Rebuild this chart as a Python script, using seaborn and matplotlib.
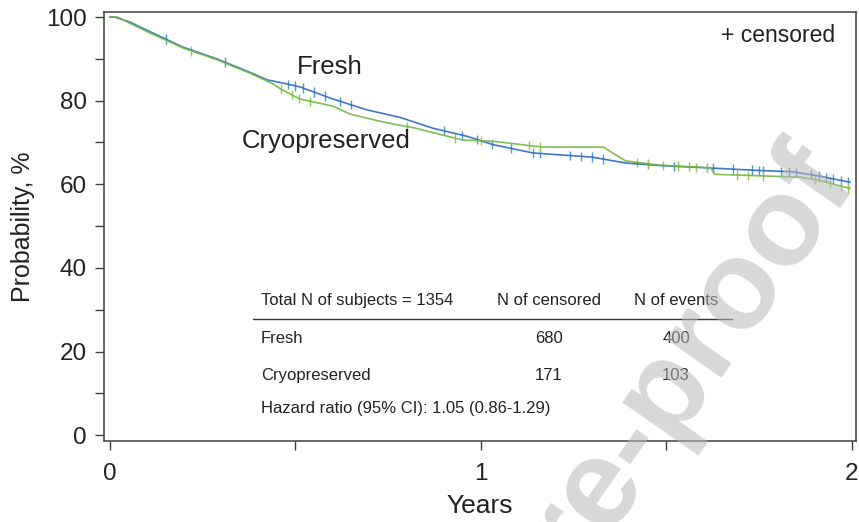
import numpy as np
import pandas as pd
import seaborn as sns
import matplotlib.pyplot as plt

# Kaplan-Meier curves (years, probability %)
fresh_t = [0, 0.013, 0.054, 0.108, 0.197, 0.288, 0.377, 0.423, 0.477, 0.512, 0.601,
           0.693, 0.782, 0.871, 0.962, 1.032, 1.14, 1.30, 1.39, 1.48, 1.62, 1.75,
           1.84, 1.91, 1.995]
fresh_p = [100, 100, 98.8, 96.5, 92.8, 90.0, 86.8, 85.0, 84.0, 83.3, 80.4,
           77.8, 76.0, 73.4, 71.5, 69.5, 67.5, 66.5, 65.1, 64.5, 63.9, 63.3,
           63.0, 62.0, 60.5]
cryo_t = [0, 0.02, 0.054, 0.108, 0.197, 0.288, 0.377, 0.44, 0.46, 0.512, 0.601,
          0.647, 0.736, 0.82, 0.95, 1.032, 1.165, 1.33, 1.355, 1.39, 1.48, 1.62,
          1.63, 1.86, 1.91, 1.995]
cryo_p = [100, 100, 98.5, 96.2, 92.6, 89.8, 86.6, 84.0, 82.8, 80.4, 78.7,
          76.8, 74.9, 73.5, 70.6, 70.3, 68.9, 68.9, 67.5, 65.6, 64.6, 63.9,
          62.4, 61.7, 61.0, 59.0]

# censoring times (years)
fresh_cens = [0.15, 0.31, 0.48, 0.50, 0.52, 0.55, 0.58, 0.62, 0.65, 0.90, 0.95,
              0.99, 1.03, 1.08, 1.14, 1.16, 1.24, 1.27, 1.30, 1.33, 1.45, 1.52,
              1.61, 1.625, 1.68, 1.73, 1.75, 1.76, 1.81, 1.83, 1.85, 1.89, 1.91,
              1.93, 1.95, 1.97, 1.99]
cryo_cens = [0.22, 0.46, 0.49, 0.51, 0.54, 0.80, 0.93, 1.00, 1.13, 1.16, 1.42,
             1.45, 1.49, 1.53, 1.56, 1.58, 1.61, 1.69, 1.72, 1.76, 1.90, 1.94,
             1.97, 1.99]

groups = ['Fresh', 'Cryopreserved']
n_censored = [680, 171]
n_events = [400, 103]

colors = {'Fresh': '#2f68bd', 'Cryopreserved': '#72b843'}
mark_colors = {'Fresh': '#4a9ad6', 'Cryopreserved': '#9acb4a'}

curves = pd.concat([
    pd.DataFrame({'years': fresh_t, 'prob': fresh_p, 'group': 'Fresh'}),
    pd.DataFrame({'years': cryo_t, 'prob': cryo_p, 'group': 'Cryopreserved'}),
])
cens = pd.concat([
    pd.DataFrame({'years': fresh_cens, 'prob': np.interp(fresh_cens, fresh_t, fresh_p), 'group': 'Fresh'}),
    pd.DataFrame({'years': cryo_cens, 'prob': np.interp(cryo_cens, cryo_t, cryo_p), 'group': 'Cryopreserved'}),
])

sns.set_style('ticks')
plt.rcParams['font.family'] = ['Liberation Sans', 'DejaVu Sans']

fig = plt.figure(figsize=(8.59, 5.22), dpi=100)
ax = fig.add_axes([0.121, 0.155, 0.8755, 0.822])

sns.lineplot(data=curves, x='years', y='prob', hue='group', palette=colors,
             estimator=None, sort=False, legend=False, linewidth=1.2, alpha=0.9, ax=ax)
sns.scatterplot(data=cens, x='years', y='prob', hue='group', palette=mark_colors,
                marker='|', s=45, linewidth=1.0, legend=False, ax=ax)

ax.set_xlim(-0.016, 2.011)
ax.set_ylim(-1.4, 101.2)
ax.set_xticks([0, 1, 2])
ax.set_xticks([0.5, 1.5], minor=True)
ax.set_yticks([0, 20, 40, 60, 80, 100])
ax.set_yticks([10, 30, 50, 70, 90], minor=True)
ax.tick_params(axis='both', which='both', length=6.5, width=1.0, color='#404040',
               labelsize=17.5, labelcolor='#222222')
ax.tick_params(axis='x', pad=9)
ax.tick_params(axis='y', pad=6)
for s in ax.spines.values():
    s.set_color('#404040')
    s.set_linewidth(1.1)

ax.set_xlabel('Years', fontsize=19, color='#222222', labelpad=7)
ax.set_ylabel('Probability, %', fontsize=18, color='#222222', labelpad=8)

ax.text(0.593, 88, 'Fresh', fontsize=18.5, ha='center', va='center', color='#222222')
ax.text(0.582, 70.3, 'Cryopreserved', fontsize=18.5, ha='center', va='center', color='#222222')
ax.text(1.956, 95.5, '+ censored', fontsize=16.5, ha='right', va='center', color='#222222')

# summary table
tk = dict(fontsize=12, va='center', color='#222222')
ax.text(0.407, 32.3, 'Total N of subjects = 1354', ha='left', **tk)
ax.text(1.183, 32.3, 'N of censored', ha='center', **tk)
ax.text(1.526, 32.3, 'N of events', ha='center', **tk)
ax.plot([0.385, 1.677], [27.75, 27.75], color='#333333', linewidth=1.0)
for g, nc, ne, yy in zip(groups, n_censored, n_events, [23.2, 14.35]):
    ax.text(0.407, yy, g, ha='left', **tk)
    ax.text(1.183, yy, str(nc), ha='center', **tk)
    ax.text(1.526, yy, str(ne), ha='center', **tk)
ax.text(0.407, 6.46, 'Hazard ratio (95% CI): 1.05 (0.86-1.29)', ha='left', **tk)

# watermark
fig.text(0.6135, -0.1475, 'Journal Pre-proof', fontsize=91, fontweight='bold',
         color='#b8b8b8', alpha=0.55, rotation=55, rotation_mode='anchor',
         ha='center', va='center', zorder=10)

fig.savefig('out.png', dpi=100)
